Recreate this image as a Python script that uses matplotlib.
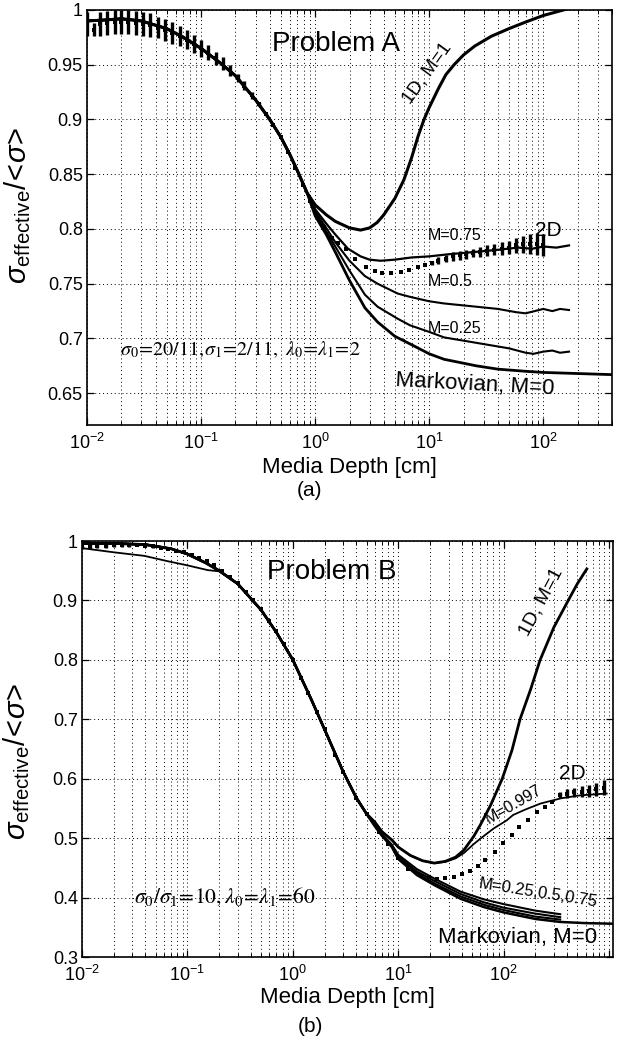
import numpy as np
import matplotlib
matplotlib.use('Agg')
import matplotlib.pyplot as plt
from matplotlib.ticker import FixedLocator, LogLocator, NullFormatter, FuncFormatter

plt.rcParams['font.family'] = ['Liberation Sans', 'DejaVu Sans']
plt.rcParams['mathtext.fontset'] = 'custom'
plt.rcParams['mathtext.rm'] = 'Liberation Sans'
plt.rcParams['mathtext.it'] = 'Liberation Sans:italic'
plt.rcParams['mathtext.bf'] = 'Liberation Sans:bold'
plt.rcParams['mathtext.sf'] = 'Liberation Sans'

# ---------------- Problem A data ----------------
a_early_depth = [0.01, 0.015, 0.02, 0.03, 0.05, 0.07, 0.1, 0.15, 0.2, 0.3, 0.4, 0.5, 0.6, 0.7, 0.85]
a_early_val = [0.990, 0.991, 0.992, 0.990, 0.983, 0.975, 0.965, 0.951, 0.940, 0.918, 0.900, 0.884, 0.868, 0.853, 0.833]

a_1d_depth = [1.0, 1.25, 1.5, 2.0, 2.5, 3.0, 3.5, 4.0, 5.0, 6.0, 7.0, 8.0, 9.0, 10, 12, 14, 16.5, 20, 25, 35, 50, 70, 100, 150, 250, 400]
a_1d_val = [0.822, 0.813, 0.807, 0.801, 0.799, 0.801, 0.806, 0.813, 0.828, 0.845, 0.865, 0.885, 0.900, 0.911, 0.928, 0.941, 0.950, 0.959, 0.967, 0.976, 0.983, 0.989, 0.995, 1.000, 1.006, 1.010]

a_m75_depth = [1.0, 1.25, 1.5, 1.94, 2.5, 3.0, 3.75, 5, 7, 10, 15, 25, 40, 60, 80, 100, 130, 168]
a_m75_val = [0.818, 0.805, 0.795, 0.782, 0.775, 0.772, 0.771, 0.772, 0.774, 0.775, 0.777, 0.779, 0.781, 0.783, 0.782, 0.784, 0.783, 0.785]

a_m50_depth = [1.0, 1.25, 1.5, 2.0, 2.73, 3.53, 5.3, 6.8, 10, 13.5, 26, 40, 58, 70, 100, 120, 140, 168]
a_m50_val = [0.816, 0.801, 0.788, 0.771, 0.757, 0.750, 0.741, 0.738, 0.734, 0.732, 0.729, 0.727, 0.724, 0.723, 0.727, 0.725, 0.727, 0.726]

a_m25_depth = [1.0, 1.25, 1.5, 2.0, 2.73, 3.53, 5.3, 6.8, 10, 13.5, 26, 50, 70, 82, 100, 120, 140, 168]
a_m25_val = [0.814, 0.798, 0.784, 0.762, 0.740, 0.729, 0.718, 0.712, 0.706, 0.701, 0.696, 0.691, 0.687, 0.686, 0.688, 0.689, 0.687, 0.688]

a_m0_depth = [1.0, 1.25, 1.5, 2.0, 2.73, 3.53, 5.0, 6.8, 10, 13.5, 26, 40, 71, 100, 200, 400]
a_m0_val = [0.812, 0.795, 0.779, 0.753, 0.728, 0.715, 0.702, 0.695, 0.686, 0.681, 0.675, 0.672, 0.670, 0.669, 0.668, 0.667]

a_2d_depth = [0.010, 0.0115, 0.013, 0.015, 0.0175, 0.02, 0.023, 0.027, 0.031, 0.036, 0.042, 0.048,
              0.056, 0.065, 0.075, 0.087, 0.1, 0.115, 0.135, 0.155, 0.18, 0.21, 0.24, 0.28, 0.32, 0.37,
              0.43, 0.5, 0.58, 0.67, 0.78, 0.9, 1.05, 1.2, 1.4, 1.6, 1.86, 2.25, 2.77, 3.33, 3.87, 4.6,
              5.6, 6.7, 7.9, 9.1, 10.5, 12, 14, 16, 18.5, 21, 24, 28, 32, 37, 43, 50, 58, 67, 77, 88, 100]
a_2d_val = [0.987, 0.982, 0.987, 0.988, 0.989, 0.989, 0.989, 0.988, 0.987, 0.986, 0.984, 0.982,
            0.979, 0.976, 0.973, 0.969, 0.965, 0.961, 0.956, 0.951, 0.945, 0.938, 0.931, 0.922, 0.914, 0.905,
            0.895, 0.884, 0.870, 0.856, 0.840, 0.826, 0.812, 0.802, 0.792, 0.787, 0.7815, 0.773, 0.765, 0.762, 0.760, 0.760,
            0.761, 0.763, 0.765, 0.767, 0.769, 0.771, 0.773, 0.775, 0.776, 0.777, 0.778, 0.779, 0.780, 0.781, 0.782, 0.783, 0.785, 0.786, 0.786, 0.786, 0.785]
a_2d_err = [0.011, 0.006, 0.011, 0.011, 0.011, 0.011, 0.011, 0.011, 0.011, 0.011, 0.010, 0.010,
            0.010, 0.009, 0.009, 0.008, 0.008, 0.007, 0.006, 0.006, 0.005, 0.004, 0.004, 0.003, 0.002, 0.001,
            0, 0, 0, 0, 0, 0, 0, 0, 0, 0, 0, 0, 0, 0, 0, 0,
            0, 0, 0, 0, 0.002, 0.003, 0.003, 0.004, 0.004, 0.004, 0.004, 0.005, 0.005, 0.005, 0.006, 0.006, 0.007, 0.008, 0.009, 0.010, 0.010]

# ---------------- Problem B data ----------------
b_early_depth = [0.01, 0.02, 0.04, 0.07, 0.1, 0.15, 0.2, 0.3, 0.5, 0.7, 1.0, 1.5, 2.0, 3.0, 4.0, 5.0]
b_early_val = [0.996, 0.996, 0.994, 0.987, 0.978, 0.963, 0.950, 0.928, 0.884, 0.846, 0.800, 0.733, 0.683, 0.612, 0.568, 0.541]

b_1d_depth = [6, 7, 8.7, 10, 13, 17, 22, 28, 35, 42, 52, 60, 75, 97, 120, 143, 180, 222, 300, 410, 500, 615]
b_1d_val = [0.527, 0.511, 0.497, 0.485, 0.471, 0.462, 0.458, 0.461, 0.468, 0.480, 0.503, 0.522, 0.555, 0.600, 0.648, 0.700, 0.750, 0.800, 0.855, 0.900, 0.928, 0.953]

b_m997_early_depth = [0.01, 0.02, 0.039, 0.065, 0.1, 0.156, 0.2]
b_m997_early_val = [0.988, 0.981, 0.975, 0.966, 0.959, 0.951, 0.949]
b_m997_depth = [6, 7, 8.7, 10, 13, 17, 22, 28, 35, 42, 52, 60, 80, 107, 123, 160, 222, 257, 350, 531, 950]
b_m997_val = [0.527, 0.511, 0.497, 0.485, 0.471, 0.462, 0.458, 0.460, 0.466, 0.475, 0.490, 0.499, 0.516, 0.530, 0.539, 0.548, 0.558, 0.561, 0.567, 0.572, 0.575]

b_bundle_depth = [6, 7, 8.7, 10, 15, 22, 39, 65, 100, 200, 344]
b_m75_val = [0.523, 0.507, 0.489, 0.472, 0.448, 0.432, 0.410, 0.397, 0.389, 0.378, 0.372]
b_m50_val = [0.522, 0.506, 0.487, 0.469, 0.444, 0.428, 0.406, 0.392, 0.383, 0.373, 0.367]
b_m25_val = [0.521, 0.505, 0.486, 0.467, 0.441, 0.424, 0.402, 0.388, 0.379, 0.368, 0.363]
b_m0_depth = [6, 7, 8.7, 10, 15, 22, 39, 65, 100, 200, 344, 600, 1090]
b_m0_val = [0.520, 0.504, 0.485, 0.465, 0.438, 0.421, 0.398, 0.384, 0.375, 0.364, 0.359, 0.357, 0.356]

b_2d_depth = [0.010, 0.012, 0.014, 0.017, 0.02, 0.024, 0.028, 0.033, 0.04, 0.047, 0.056, 0.066, 0.078, 0.093,
              0.11, 0.13, 0.155, 0.18, 0.215, 0.255, 0.3, 0.36, 0.42, 0.5, 0.6, 0.7, 0.83, 1.0, 1.2, 1.4,
              1.7, 2.0, 2.5, 3.0, 4.0, 5.0, 6.5, 8.0, 10, 12.5, 16.2, 19.5, 23.3, 28, 33.6, 40, 48.3, 57, 67,
              83, 98, 120, 141, 172, 207, 248, 287, 344, 400, 470, 550, 650, 760, 900]
b_2d_val = [0.990, 0.991, 0.992, 0.992, 0.993, 0.993, 0.993, 0.993, 0.992, 0.991, 0.989, 0.987, 0.984, 0.981,
            0.977, 0.972, 0.966, 0.959, 0.950, 0.940, 0.930, 0.915, 0.900, 0.886, 0.866, 0.848, 0.826, 0.800, 0.770, 0.745,
            0.712, 0.683, 0.640, 0.612, 0.568, 0.540, 0.510, 0.490, 0.466, 0.448, 0.4377, 0.434, 0.432, 0.433, 0.435, 0.439, 0.445, 0.453, 0.464,
            0.477, 0.491, 0.505, 0.519, 0.530, 0.544, 0.553, 0.561, 0.572, 0.575, 0.577, 0.578, 0.580, 0.582, 0.585]
b_2d_err = [0.004, 0.004, 0.004, 0.003, 0.003, 0.003, 0.003, 0.002, 0.002, 0.002, 0.001, 0.001, 0.001, 0.001,
            0, 0, 0, 0, 0, 0, 0, 0, 0, 0, 0, 0, 0, 0, 0, 0,
            0, 0, 0, 0, 0, 0, 0, 0, 0, 0, 0, 0, 0, 0, 0, 0, 0, 0, 0,
            0, 0, 0, 0, 0, 0, 0, 0, 0.005, 0.007, 0.008, 0.009, 0.010, 0.011, 0.012]

x_ticks = [1e-2, 1e-1, 1, 10, 100, 1000]
a_yticks = [0.65, 0.7, 0.75, 0.8, 0.85, 0.9, 0.95, 1.0]
b_yticks = [0.3, 0.4, 0.5, 0.6, 0.7, 0.8, 0.9, 1.0]

W, H = 619, 1042
fig = plt.figure(figsize=(W / 100, H / 100), dpi=100)
axA = fig.add_axes([87 / W, 1 - 425 / H, 525 / W, 415 / H])
axB = fig.add_axes([82 / W, 1 - 957 / H, 531 / W, 416 / H])


def xfmt(v, p):
    if v > 150:
        return ''
    return r'$10^{%d}$' % int(round(np.log10(v)))


def style(ax, xmax, ylo, yticks):
    ax.set_xscale('log')
    ax.set_xlim(0.01, xmax)
    ax.set_ylim(ylo, 1.0)
    ax.xaxis.set_major_locator(FixedLocator(x_ticks))
    ax.xaxis.set_major_formatter(FuncFormatter(xfmt))
    ax.xaxis.set_minor_locator(LogLocator(base=10, subs=np.arange(2, 10), numticks=30))
    ax.xaxis.set_minor_formatter(NullFormatter())
    ax.set_yticks(yticks)
    ax.yaxis.set_major_formatter(FuncFormatter(lambda v, p: '%g' % v))
    gkw = dict(color='k', linestyle=(0, (1, 3)), linewidth=0.7)
    ax.grid(True, which='major', axis='both', **gkw)
    ax.grid(True, which='minor', axis='x', **gkw)
    ax.tick_params(which='both', direction='in', top=True, right=True, labelsize=13)
    ax.tick_params(which='major', length=5, width=0.9)
    ax.tick_params(which='minor', length=3, width=0.7)
    ax.tick_params(axis='x', pad=6)
    ax.tick_params(axis='y', pad=3)
    for s in ax.spines.values():
        s.set_linewidth(1.2)


style(axA, 400, 0.621, a_yticks)
style(axB, 1090, 0.3, b_yticks)

# ---- Problem A curves ----
axA.plot(a_early_depth + a_1d_depth, a_early_val + a_1d_val, color='k', lw=2.2)
axA.plot(a_early_depth + a_m75_depth, a_early_val + a_m75_val, color='k', lw=1.6)
axA.plot(a_early_depth + a_m50_depth, a_early_val + a_m50_val, color='k', lw=1.5)
axA.plot(a_early_depth + a_m25_depth, a_early_val + a_m25_val, color='k', lw=1.5)
axA.plot(a_early_depth + a_m0_depth, a_early_val + a_m0_val, color='k', lw=2.0)
axA.errorbar(a_2d_depth, a_2d_val, yerr=a_2d_err, fmt='s', ms=2.8, color='k',
             elinewidth=2.4, capsize=0, mew=0)

# ---- Problem B curves ----
axB.plot(b_early_depth + b_1d_depth, b_early_val + b_1d_val, color='k', lw=2.0)
axB.plot(b_m997_early_depth + b_early_depth[7:] + b_m997_depth,
         b_m997_early_val + b_early_val[7:] + b_m997_val, color='k', lw=1.3)
axB.plot(b_early_depth + b_bundle_depth, b_early_val + b_m75_val, color='k', lw=1.5)
axB.plot(b_early_depth + b_bundle_depth, b_early_val + b_m50_val, color='k', lw=1.5)
axB.plot(b_early_depth + b_bundle_depth, b_early_val + b_m25_val, color='k', lw=1.5)
axB.plot(b_early_depth + b_m0_depth, b_early_val + b_m0_val, color='k', lw=1.8)
axB.errorbar(b_2d_depth, b_2d_val, yerr=b_2d_err, fmt='s', ms=2.8, color='k',
             elinewidth=2.4, capsize=0, mew=0)

# ---- annotations A ----
axA.text(1.52, 0.969, 'Problem A', fontsize=20, ha='center', va='center')
axA.text(9.6, 0.942, '1D, M=1', fontsize=13.5, ha='center', va='center', rotation=54)
axA.text(16.8, 0.7945, 'M=0.75', fontsize=11.5, ha='center', va='center')
axA.text(110, 0.799, '2D', fontsize=15, ha='center', va='center')
axA.text(15.2, 0.752, 'M=0.5', fontsize=11.5, ha='center', va='center')
axA.text(16.8, 0.709, 'M=0.25', fontsize=11.5, ha='center', va='center')
axA.text(25, 0.658, 'Markovian, M=0', fontsize=16, ha='center', va='center', rotation=-3)
axA.text(0.0194, 0.6845, r'$\sigma_0\!=\!20/11,\!\sigma_1\!=\!2/11,\ \lambda_0\!=\!\lambda_1\!=\!2$',
         fontsize=14.5, ha='left', va='baseline', math_fontfamily='stix')

# ---- annotations B ----
axB.text(2.36, 0.948, 'Problem B', fontsize=20, ha='center', va='center')
axB.text(228, 0.897, '1D, M=1', fontsize=14, ha='center', va='center', rotation=62)
axB.text(446, 0.609, '2D', fontsize=15, ha='center', va='center')
axB.text(123, 0.557, 'M=0.997', fontsize=11.5, ha='center', va='center', rotation=30)
axB.text(214, 0.407, 'M=0.25,0.5,0.75', fontsize=12, ha='center', va='center', rotation=-9)
axB.text(137, 0.332, 'Markovian, M=0', fontsize=16, ha='center', va='center')
axB.text(0.031, 0.391, r'$\sigma_0/\sigma_1\!=\!10,\lambda_0\!=\!\lambda_1\!=\!60$',
         fontsize=15.5, ha='left', va='baseline', math_fontfamily='stix')

# ---- axis labels ----
ylab = r'$\sigma_{\mathrm{effective}}/\!<\!\sigma\!>$'
axA.set_ylabel(ylab, fontsize=21)
axA.yaxis.set_label_coords(-0.103, 0.528)
axB.set_ylabel(ylab, fontsize=21)
axB.yaxis.set_label_coords(-0.094, 0.47)

fig.text(349.5 / W, 1 - 467 / H, 'Media Depth [cm]', fontsize=16, ha='center', va='center')
fig.text(310 / W, 1 - 491 / H, '(a)', fontsize=15, ha='center', va='center')
fig.text(347.5 / W, 1 - 998 / H, 'Media Depth [cm]', fontsize=16, ha='center', va='center')
fig.text(310 / W, 1 - 1027 / H, '(b)', fontsize=15, ha='center', va='center')

fig.savefig('out.png', dpi=100)
